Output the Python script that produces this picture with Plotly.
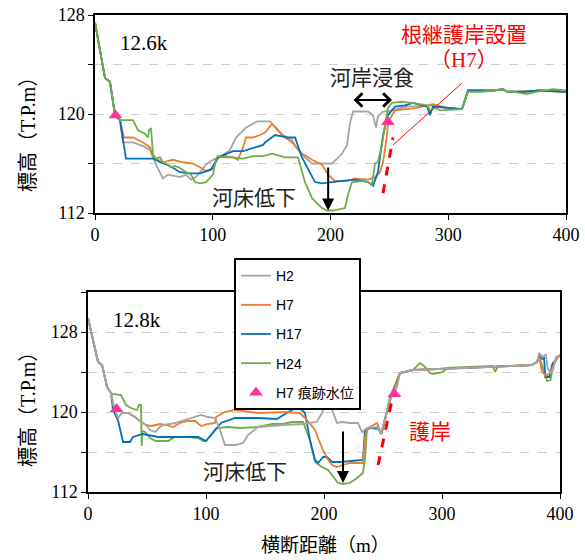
import plotly.graph_objects as go

# ---------------- data: 12.6k (top) ----------------
top_h2_x = [0, 8.5, 12.7, 17, 21.2, 23.8, 32.3, 40.8, 46.7, 51.8, 57.7, 62.0, 72.2, 77.3, 81.5, 85.8, 94.3, 100.2, 106.2, 114.6, 119.7, 128.2, 137.6, 148.6, 159.7, 167.3, 172.4, 178.3, 184.3, 192.8, 201.3, 205.5, 209.8, 214, 216.6, 219.1, 231.8, 236.1, 238.6, 240.3, 244.6, 252.2, 265, 287, 299, 311.7, 316.8, 338, 346.5, 350, 363.5, 378, 400]
top_h2_y = [127.4, 122.9, 122.6, 119.9, 119.5, 117.7, 117.7, 117.4, 117.1, 115.9, 114.8, 115.1, 114.9, 115.1, 114.7, 114.9, 115.9, 116.3, 116.5, 117.1, 118.1, 118.9, 119.4, 119.4, 118.3, 117.9, 117.1, 116.5, 116.0, 116.0, 116.0, 116.4, 116.8, 117.5, 119.3, 120.2, 120.2, 119.9, 118.9, 119.8, 120.2, 120.3, 120.6, 120.7, 120.5, 120.4, 121.9, 121.9, 122.0, 121.8, 121.8, 121.9, 121.8]

top_h7_x = [0, 8.5, 12.7, 17, 21.2, 24.6, 32.3, 40.8, 46.7, 49.3, 57.7, 66.2, 74.7, 83.2, 89.2, 94.3, 100.2, 104.5, 111.3, 117.2, 121.4, 125.7, 128.2, 134.2, 140.1, 144.4, 150.3, 158.8, 167.3, 175.8, 184.3, 192.8, 197.9, 203.8, 214.9, 220.8, 231.8, 237.8, 242.0, 244.6, 248.0, 248.8, 254.8, 265, 273.5, 287, 299, 311.7, 316.8, 338, 346.5, 350, 363.5, 378, 400]
top_h7_y = [127.4, 122.9, 122.6, 119.9, 119.5, 118.1, 118.1, 117.7, 117.3, 116.5, 116.1, 116.3, 116.1, 116.0, 115.7, 115.4, 115.6, 116.5, 116.6, 116.5, 116.3, 117.3, 118.1, 118.1, 118.3, 118.5, 119.2, 118.3, 117.7, 116.8, 116.3, 115.9, 115.1, 114.6, 114.6, 114.8, 114.7, 114.9, 115.3, 116.1, 118.3, 119.3, 120.3, 120.4, 120.5, 120.8, 120.5, 120.4, 121.9, 121.9, 122.0, 121.8, 121.8, 121.9, 121.8]

top_h17_x = [0, 8.5, 12.7, 17, 21.2, 26.3, 49.3, 55.2, 63.7, 72.2, 80.7, 89.2, 98.5, 104.5, 117.2, 125.7, 142.7, 144.4, 152.9, 163.9, 169.9, 175.8, 186.8, 192.8, 209.8, 220.8, 231.8, 236.1, 240.3, 244.6, 248.8, 254.8, 263.3, 270.1, 282, 284.5, 287, 299, 311.7, 316.8, 338, 346.5, 350, 363.5, 378, 400]
top_h17_y = [127.4, 122.9, 122.6, 119.9, 119.5, 116.4, 116.4, 116.1, 115.8, 115.3, 115.2, 115.2, 115.5, 116.5, 117.0, 117.0, 117.5, 117.7, 118.3, 118.1, 118.1, 116.5, 114.5, 114.4, 114.6, 114.7, 114.5, 114.2, 115.3, 118.3, 119.9, 120.6, 120.7, 120.9, 120.6, 119.9, 120.6, 120.5, 120.4, 121.9, 121.9, 122.0, 121.8, 121.8, 121.9, 121.8]

top_h24_x = [0, 8.5, 12.7, 17, 21.2, 32.3, 36.5, 42.5, 45.0, 45.9, 47.6, 48.4, 49.3, 51.8, 55.2, 57.7, 62.0, 64.5, 67.9, 73.0, 77.3, 81.5, 84.9, 89.2, 94.3, 100.2, 102.8, 104.5, 110.4, 117.2, 125.7, 134.2, 142.7, 150.3, 161.4, 172.4, 174.1, 178.3, 184.3, 192.8, 197.0, 202.1, 212.3, 214.9, 218.3, 229.3, 233.5, 235.2, 237.8, 240.3, 243.7, 246.3, 248.8, 252.2, 260.7, 276, 282, 284.5, 288.8, 293, 311.7, 316.8, 327, 338, 346.5, 350, 355, 366.9, 375.4, 389, 400]
top_h24_y = [127.4, 122.9, 122.6, 119.9, 119.5, 119.5, 118.7, 118.4, 118.1, 118.7, 118.8, 117.3, 116.7, 116.4, 116.5, 116.1, 115.9, 115.7, 115.8, 115.6, 115.3, 115.1, 114.5, 114.4, 114.5, 115.1, 116.4, 116.6, 116.5, 116.5, 116.4, 116.6, 116.6, 116.8, 116.5, 116.5, 115.9, 114.5, 113.2, 112.4, 112.2, 112.2, 112.4, 113.5, 114.5, 114.6, 114.4, 114.3, 116.0, 116.1, 117.5, 118.9, 120.5, 120.9, 121.0, 120.8, 120.7, 120.3, 120.5, 120.3, 120.4, 121.8, 121.8, 121.9, 122.0, 121.8, 121.8, 121.6, 121.8, 122.0, 121.9]

top_mark_x = [17.4, 248.8]
top_mark_y = [119.9, 119.35]

# ---------------- data: 12.8k (bottom) ----------------
bot_h2_x = [0, 8.5, 11.9, 16.1, 19.5, 22, 25.4, 28.8, 33.9, 39.8, 44.9, 49.2, 52.5, 56.8, 61, 63.6, 73.7, 82.2, 87.3, 95.8, 101.7, 107.6, 111.9, 116, 124.6, 131.4, 135.6, 141.5, 144, 165.3, 182.2, 193.8, 198.3, 200.8, 205.1, 207.6, 211, 215.3, 222, 228.8, 232.2, 236.4, 245, 248.3, 256, 261.9, 264.4, 275.4, 300.8, 320, 340, 360, 376, 380.5, 382.2, 385.6, 388, 389.5, 392, 394, 396.5, 400]
bot_h2_y = [129.4, 125.0, 124.7, 122.5, 121.9, 120.5, 119.4, 119.9, 119.9, 119.5, 119.0, 118.7, 118.2, 118.0, 118.5, 118.7, 118.9, 119.2, 119.4, 119.7, 119.5, 119.4, 118.2, 116.7, 116.7, 116.9, 117.7, 118.2, 118.5, 118.7, 118.8, 119.0, 119.9, 120.7, 120.7, 120.0, 118.9, 119.0, 118.9, 118.9, 118.0, 118.4, 118.5, 117.9, 121.2, 122.5, 123.9, 124.2, 124.3, 124.4, 124.5, 124.6, 124.7, 125.0, 125.9, 125.5, 125.8, 124.4, 123.9, 124.2, 125.5, 125.7]

bot_h7_x = [0, 8.5, 11.9, 16.1, 19.5, 22, 25.4, 28.8, 33.9, 39.8, 44.9, 49.2, 53.4, 61, 66.1, 72, 78, 84.7, 90.7, 95.8, 101.7, 107.6, 108.5, 116, 124.6, 133, 144, 167, 179.7, 185.6, 192.4, 198.3, 202.5, 206.8, 211, 216.1, 222, 233, 234.7, 237.3, 245, 248.5, 256, 261.9, 264.4, 275.4, 300.8, 320, 340, 360, 376, 380.5, 382.5, 384.5, 388, 391.5, 394, 397, 400]
bot_h7_y = [129.4, 125.0, 124.7, 122.5, 121.9, 120.5, 119.4, 119.9, 119.9, 119.5, 119.0, 118.7, 118.6, 118.8, 118.7, 118.5, 118.9, 119.1, 119.1, 118.6, 118.8, 118.9, 119.5, 120.0, 120.2, 120.1, 119.9, 120.0, 119.9, 119.2, 118.2, 116.4, 115.4, 114.7, 114.5, 114.7, 114.9, 114.9, 117.5, 118.4, 118.9, 117.8, 121.2, 123.0, 123.9, 124.2, 124.3, 124.4, 124.5, 124.6, 124.7, 125.0, 125.5, 124.1, 123.6, 123.9, 124.5, 125.3, 125.7]

bot_h17_x = [0, 8.5, 11.9, 16.1, 19.5, 21.2, 25.4, 29.7, 35.6, 38.1, 46.6, 53.4, 59.3, 93.2, 100, 105.9, 112.7, 124.6, 133, 144, 160, 168.6, 175.4, 181.4, 183.9, 188.1, 192.4, 195, 199.2, 202.5, 206.8, 213.6, 222, 233, 234.7, 239, 245.8, 248.5, 256, 261.9, 264.4, 275.4, 300.8, 320, 340, 360, 376, 380.5, 382.5, 385, 386.5, 387.5, 391, 393.5, 397, 400]
bot_h17_y = [129.4, 125.0, 124.7, 122.5, 121.9, 120.2, 119.2, 117.0, 117.0, 117.5, 117.8, 117.6, 117.5, 117.5, 117.1, 117.9, 118.9, 119.4, 119.4, 119.4, 119.3, 119.9, 120.4, 120.2, 119.9, 117.2, 115.2, 114.9, 115.5, 115.5, 115.0, 115.0, 115.1, 115.2, 118.2, 118.4, 118.4, 117.8, 121.2, 123.0, 123.9, 124.2, 124.3, 124.4, 124.5, 124.6, 124.7, 125.0, 125.6, 125.3, 125.5, 123.5, 123.5, 124.8, 125.3, 125.7]

bot_h24_x = [0, 8.5, 11.9, 16.1, 19.5, 21, 28, 32.2, 36.4, 41.5, 43.2, 44.9, 45.5, 46.2, 48.3, 52.5, 57.6, 67.8, 73.7, 84.7, 93.2, 97.5, 100, 108.5, 118.6, 129.7, 144, 156, 165, 172.9, 182.2, 188, 192.4, 198.3, 203.4, 207.6, 211.9, 216.1, 222, 228, 233, 234.7, 236.4, 239, 245.8, 249, 255.9, 261.9, 264.4, 275.4, 281.4, 285.6, 289.8, 292.4, 300.8, 304.2, 320, 340, 343, 345, 347.5, 360, 376, 380.5, 382.5, 385, 389, 392, 394, 397, 400]
bot_h24_y = [129.4, 125.0, 124.7, 122.5, 121.9, 121.8, 121.7, 120.7, 120.4, 120.2, 120.7, 120.7, 116.6, 118.1, 118.0, 117.4, 117.1, 117.1, 117.5, 117.5, 117.4, 117.1, 117.1, 118.4, 118.5, 118.4, 118.5, 118.8, 118.8, 119.0, 119.0, 117.2, 115.0, 114.5, 114.2, 113.5, 112.9, 112.8, 112.9, 113.4, 113.9, 115.2, 118.2, 118.4, 118.3, 117.9, 121.5, 123.2, 123.9, 124.2, 124.9, 124.5, 123.9, 123.8, 124.0, 124.4, 124.5, 124.6, 124.6, 124.0, 124.6, 124.6, 124.7, 125.0, 125.5, 124.6, 123.1, 123.2, 124.5, 125.3, 125.7]

bot_mark_x = [24.2, 259.7]
bot_mark_y = [120.3, 121.8]

series_names = ["H2", "H7", "H17", "H24"]
series_colors = ["#A5A5A5", "#ED7D31", "#0070C0", "#70AD47"]
mark_name = "H7 痕跡水位"
mark_color = "#FF3399"

x_ticks = [0, 100, 200, 300, 400]
top_y_ticks = [112, 116, 120, 124, 128]
top_y_text = ["112", "", "120", "", "128"]
bot_y_ticks = [112, 116, 120, 124, 128, 132]
bot_y_text = ["112", "", "120", "", "128", ""]

# ---------------- figure ----------------
fig = go.Figure()

top_sets = [(top_h2_x, top_h2_y), (top_h7_x, top_h7_y), (top_h17_x, top_h17_y), (top_h24_x, top_h24_y)]
bot_sets = [(bot_h2_x, bot_h2_y), (bot_h7_x, bot_h7_y), (bot_h17_x, bot_h17_y), (bot_h24_x, bot_h24_y)]

for i, (xs, ys) in enumerate(top_sets):
    fig.add_trace(go.Scatter(x=xs, y=ys, mode="lines", name=series_names[i],
                             line=dict(color=series_colors[i], width=1.8),
                             legendgroup=series_names[i], legendrank=i + 1,
                             xaxis="x", yaxis="y"))
fig.add_trace(go.Scatter(x=top_mark_x, y=top_mark_y, mode="markers", name=mark_name,
                         marker=dict(symbol="triangle-up", size=12, color=mark_color),
                         legendgroup="mark", legendrank=5, xaxis="x", yaxis="y"))

for i in [3, 2, 1, 0]:
    xs, ys = bot_sets[i]
    fig.add_trace(go.Scatter(x=xs, y=ys, mode="lines", name=series_names[i],
                             line=dict(color=series_colors[i], width=1.8),
                             legendgroup=series_names[i], showlegend=False,
                             xaxis="x2", yaxis="y2"))
fig.add_trace(go.Scatter(x=bot_mark_x, y=bot_mark_y, mode="markers", name=mark_name,
                         marker=dict(symbol="triangle-up", size=12, color=mark_color),
                         legendgroup="mark", showlegend=False, xaxis="x2", yaxis="y2"))

W, H = 585, 560
OFF = 0  # body margin removed by post_script below


def fx(px):
    return (px - OFF) / W


def fy(py):
    return (H - (py - OFF)) / H


tick_font = dict(family="Liberation Serif, Times New Roman, serif", size=18, color="black")
axis_common = dict(showline=True, linecolor="black", linewidth=1.5, mirror=True,
                   ticks="outside", ticklen=5, tickcolor="black", tickwidth=1,
                   tickfont=tick_font, zeroline=False, automargin=False,
                   ticklabeloverflow="allow")

fig.update_layout(
    width=W, height=H, autosize=False,
    margin=dict(l=0, r=0, t=0, b=0, autoexpand=False),
    paper_bgcolor="white", plot_bgcolor="white",
    xaxis=dict(domain=[fx(95), fx(566)], range=[0, 400], tickvals=x_ticks, showgrid=False,
               anchor="y", **axis_common),
    yaxis=dict(domain=[fy(213), fy(15)], range=[112, 128], tickvals=top_y_ticks,
               ticktext=top_y_text, showgrid=True, gridcolor="#D0D0D0", griddash="dash",
               gridwidth=1, anchor="x", **axis_common),
    xaxis2=dict(domain=[fx(88), fx(560)], range=[0, 400], tickvals=x_ticks, showgrid=False,
                anchor="y2", **axis_common),
    yaxis2=dict(domain=[fy(492), fy(292)], range=[112, 132], tickvals=bot_y_ticks,
                ticktext=bot_y_text, showgrid=True, gridcolor="#D0D0D0", griddash="dash",
                gridwidth=1, anchor="x2", **axis_common),
    showlegend=True,
    legend=dict(x=fx(234), y=fy(258), xanchor="left", yanchor="top",
                bgcolor="white", bordercolor="black", borderwidth=2,
                font=dict(family="Liberation Sans, Arial, Noto Sans CJK JP", size=14, color="black"),
                tracegroupgap=8, traceorder="grouped"),
)

cjk = "Liberation Serif, Noto Sans CJK JP"
ann = []
# axis titles
ann.append(dict(xref="paper", yref="paper", x=fx(28), y=fy(130), text="標高（T.P.m）",
                xanchor="center", yanchor="middle",
                textangle=-90, showarrow=False, font=dict(family=cjk, size=20, color="black")))
ann.append(dict(xref="paper", yref="paper", x=fx(28), y=fy(405), text="標高（T.P.m）",
                xanchor="center", yanchor="middle",
                textangle=-90, showarrow=False, font=dict(family=cjk, size=20, color="black")))
ann.append(dict(xref="paper", yref="paper", x=fx(325), y=fy(545), text="横断距離（m）",
                xanchor="center", yanchor="middle",
                showarrow=False, font=dict(family=cjk, size=19, color="black")))
# labels
ann.append(dict(xref="x", yref="y", x=41.6, y=125.7, text="12.6k", showarrow=False,
                font=dict(family="Liberation Serif", size=21, color="black")))
ann.append(dict(xref="x2", yref="y2", x=41.5, y=129.2, text="12.8k", showarrow=False,
                font=dict(family="Liberation Serif", size=21, color="black")))
ann.append(dict(xref="x", yref="y", x=135, y=113.2, text="河床低下", showarrow=False,
                font=dict(family=cjk, size=21, color="#222222")))
ann.append(dict(xref="x2", yref="y2", x=133, y=114, text="河床低下", showarrow=False,
                font=dict(family=cjk, size=21, color="#222222")))
ann.append(dict(xref="x", yref="y", x=235.3, y=122.9, text="河岸浸食", showarrow=False,
                font=dict(family=cjk, size=21, color="#222222")))
ann.append(dict(xref="x", yref="y", x=313.4, y=126.4, text="根継護岸設置", showarrow=False,
                font=dict(family=cjk, size=21, color="red")))
ann.append(dict(xref="x", yref="y", x=313.4, y=124.4, text="（H7）", showarrow=False,
                font=dict(family=cjk, size=21, color="red")))
ann.append(dict(xref="x2", yref="y2", x=289.8, y=118, text="護岸", showarrow=False,
                font=dict(family=cjk, size=21, color="red")))
# arrows
ann.append(dict(xref="x", yref="y", axref="x", ayref="y", x=198, y=112.2, ax=198, ay=115.8,
                text="", showarrow=True, arrowhead=2, arrowsize=1.2, arrowwidth=2, arrowcolor="black"))
ann.append(dict(xref="x2", yref="y2", axref="x2", ayref="y2", x=216.1, y=112.9, ax=216.1, ay=118.2,
                text="", showarrow=True, arrowhead=2, arrowsize=1.2, arrowwidth=2, arrowcolor="black"))
ann.append(dict(xref="x", yref="y", axref="x", ayref="y", x=252.2, y=121.13, ax=218.3, ay=121.13,
                text="", showarrow=True, arrowhead=4, startarrowhead=4, arrowside="end+start",
                arrowsize=1.3, startarrowsize=1.3, arrowwidth=2, arrowcolor="black"))
fig.update_layout(annotations=ann)

shapes = []
shapes.append(dict(type="line", xref="x", yref="y", x0=311.7, y0=122.5, x1=253.1, y1=117.5,
                   line=dict(color="red", width=1)))
shapes.append(dict(type="line", xref="x", yref="y", x0=244.6, y0=113.6, x1=253.1, y1=118.1,
                   line=dict(color="red", width=3, dash="dash")))
shapes.append(dict(type="line", xref="x2", yref="y2", x0=245.8, y0=114.7, x1=257.6, y1=121.2,
                   line=dict(color="red", width=3, dash="dash")))
fig.update_layout(shapes=shapes)

fig.write_html("out.html", config={"displayModeBar": False},
               post_script="document.body.style.margin='0';")
